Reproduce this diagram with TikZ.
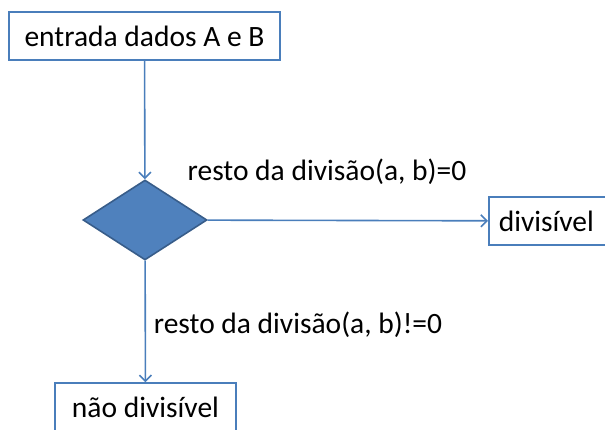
\documentclass[tikz,border=0pt]{standalone}
\usepackage{fontspec}
\setmainfont{Carlito}
\usetikzlibrary{arrows.meta,shapes.geometric,positioning}
\definecolor{flow}{HTML}{4A7EBB}
\definecolor{flowfill}{HTML}{4F81BD}
\definecolor{flowdark}{HTML}{385D8A}
\tikzset{
    %Define standard arrow tip
    >={Straight Barb[length=6pt,width=12pt]},
    %Define style for boxes
    stepbox/.style={
           rectangle,
           draw=flow, line width=1.6pt,
           fill=white,
           minimum height=48pt,
           inner sep=0pt,
           font=\fontsize{29.5}{34}\selectfont,
           text=black},
    decision/.style={
           diamond,
           draw=flowdark, line width=1.6pt,
           fill=flowfill,
           aspect=1.55,
           minimum width=124pt,
           minimum height=80pt,
           inner sep=0pt},
    % Define arrow style
    pil/.style={
           ->,
           draw=flow,
           line width=1.6pt},
    cond/.style={
           font=\fontsize{29.5}{34}\selectfont,
           text=black,
           inner sep=0pt}
}
\begin{document}
\begin{tikzpicture}[x=1pt,y=-1pt]
\useasboundingbox (0,0) rectangle (605,430);
\clip (0,0) rectangle (605,430);
\node[stepbox, minimum width=271pt](In) at (144.5,36){entrada dados A e B};
\node[decision](Test) at (145,220){};
\node[stepbox, anchor=west, inner xsep=10pt, text width=140pt, align=left](Div) at (488,221){divisível};
\node[stepbox, minimum width=181pt](NDiv) at (145.5,407){não divisível};
\node[cond](Yes) at (327,172){resto da divisão(a, b)=0};
\node[cond](No) at (298,325){resto da divisão(a, b)!=0};
\path[pil]
	(In) edge (Test)
	(Test) edge (Div)
	(Test) edge (NDiv);
\end{tikzpicture}
\end{document}
